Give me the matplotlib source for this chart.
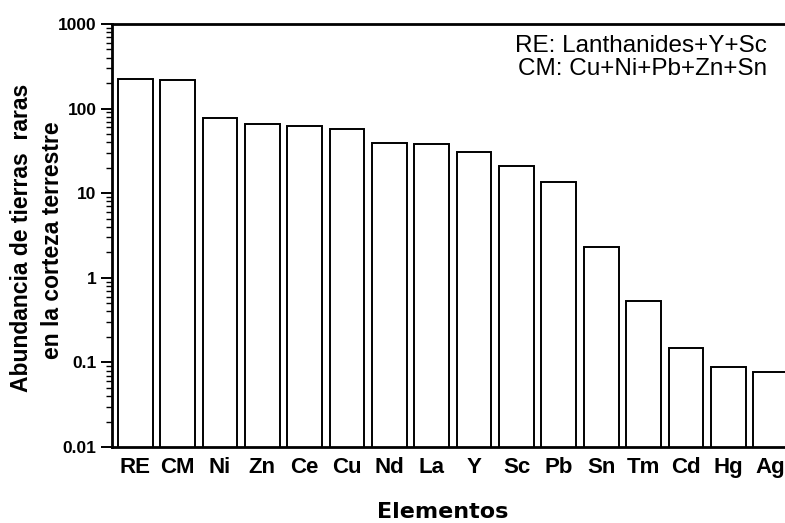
import matplotlib
matplotlib.use("Agg")
import matplotlib.pyplot as plt
from matplotlib.ticker import FixedLocator, LogLocator, NullFormatter

# Crustal abundance (ppm) of rare earths compared with common metals
elements = ["RE", "CM", "Ni", "Zn", "Ce", "Cu", "Nd", "La", "Y", "Sc",
            "Pb", "Sn", "Tm", "Cd", "Hg", "Ag"]
abundance = [224, 218, 78, 66, 63, 57, 39, 38, 31, 21,
             13.5, 2.3, 0.53, 0.15, 0.088, 0.076]

y_ticks = [0.01, 0.1, 1, 10, 100, 1000]
y_tick_labels = ["0.01", "0.1", "1", "10", "100", "1000"]

notes = ["RE: Lanthanides+Y+Sc", "CM: Cu+Ni+Pb+Zn+Sn"]

W, H = 785, 523
fig = plt.figure(figsize=(W / 100, H / 100), dpi=100)
ax = fig.add_axes([112 / W, 1 - 447 / H, (W - 112) / W, (447 - 24) / H])

x = list(range(len(elements)))
ax.bar(x, abundance, width=0.82, color="white", edgecolor="black",
       linewidth=1.4, zorder=2)

ax.set_yscale("log")
ax.set_ylim(0.01, 1000)
ax.set_xlim(-0.55, 15.34)

ax.yaxis.set_major_locator(FixedLocator(y_ticks))
ax.set_yticklabels(y_tick_labels, fontfamily="Liberation Sans",
                   fontweight="bold", fontsize=12.5)
ax.yaxis.set_minor_locator(LogLocator(base=10, subs=range(2, 10), numticks=20))
ax.yaxis.set_minor_formatter(NullFormatter())
ax.tick_params(axis="y", which="major", length=8, width=1.4, pad=3,
               direction="out")
ax.tick_params(axis="y", which="minor", length=4.5, width=1.0,
               direction="out")

ax.set_xticks(x)
ax.set_xticklabels(elements, fontfamily="Liberation Sans",
                   fontweight="bold", fontsize=16)
ax.tick_params(axis="x", length=0, pad=7)

for side in ("left", "bottom", "top"):
    ax.spines[side].set_linewidth(2.0)
ax.spines["right"].set_visible(False)

# Notes in the upper right
fig.text(767 / W, 1 - 52 / H, notes[0], ha="right", va="baseline",
         fontfamily="Liberation Sans", fontsize=17.5)
fig.text(767 / W, 1 - 75 / H, notes[1], ha="right", va="baseline",
         fontfamily="Liberation Sans", fontsize=17.5)

# Axis titles
fig.text(28 / W, 1 - 238 / H, "Abundancia de tierras  raras", rotation=90,
         rotation_mode="anchor", ha="center", va="baseline",
         fontfamily="Liberation Sans", fontweight="bold", fontsize=16.5)
fig.text(59 / W, 1 - 240 / H, "en la corteza terrestre", rotation=90,
         rotation_mode="anchor", ha="center", va="baseline",
         fontfamily="Liberation Sans", fontweight="bold", fontsize=16.5)
fig.text(443 / W, 1 - 518 / H, "Elementos", ha="center", va="baseline",
         fontfamily="DejaVu Sans", fontweight="bold", fontsize=16)

fig.savefig("out.png", dpi=100)
